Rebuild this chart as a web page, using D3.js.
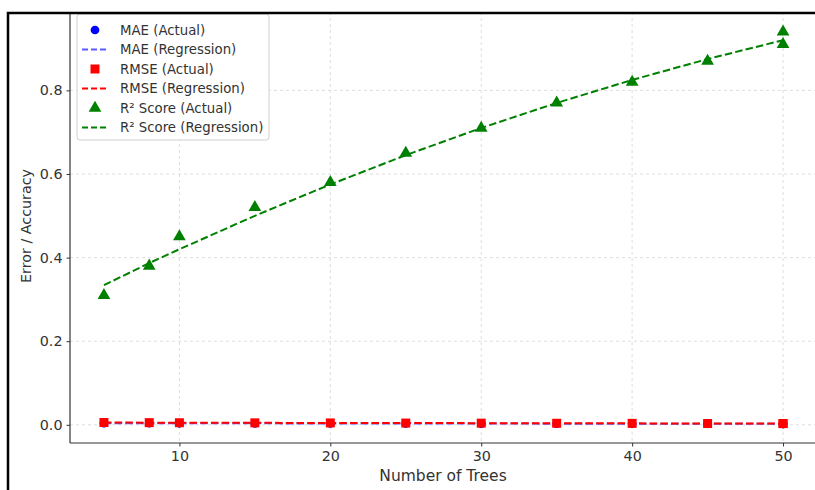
<!DOCTYPE html>
<html><head><meta charset="utf-8">
<script src="https://cdn.jsdelivr.net/npm/d3@7"></script>
<style>html,body{margin:0;padding:0;background:#fff;}svg{display:block;font-family:"DejaVu Sans",sans-serif;}</style>
</head><body><svg id="c" width="815" height="490"></svg>
<script>
const trees = [5, 8, 10, 15, 20, 25, 30, 35, 40, 45, 50, 50];
const maeActual = [0.004, 0.0038, 0.0037, 0.0035, 0.0033, 0.0031, 0.003, 0.0028, 0.0027, 0.0025, 0.0024, 0.0024];
const rmseActual = [0.0055, 0.0052, 0.005, 0.0047, 0.0045, 0.0042, 0.004, 0.0037, 0.0035, 0.0032, 0.003, 0.003];
const r2Actual = [0.31, 0.38, 0.45, 0.52, 0.58, 0.65, 0.71, 0.77, 0.82, 0.87, 0.91, 0.94];
const regTrees = [5, 8, 10, 15, 20, 25, 30, 35, 40, 45, 50];
const maeReg = [0.0039, 0.0038, 0.0037, 0.0035, 0.0033, 0.0031, 0.003, 0.0028, 0.0027, 0.0025, 0.0024];
const rmseReg = [0.0055, 0.0052, 0.005, 0.0047, 0.0045, 0.0042, 0.004, 0.0037, 0.0035, 0.0032, 0.003];
const r2Reg = [0.334, 0.387, 0.42, 0.5, 0.575, 0.645, 0.71, 0.77, 0.825, 0.875, 0.92];
const xTicks = [10, 20, 30, 40, 50];
const yTicks = [0, 0.2, 0.4, 0.6, 0.8];
const legendLabels = ["MAE (Actual)", "MAE (Regression)", "RMSE (Actual)", "RMSE (Regression)", "R² Score (Actual)", "R² Score (Regression)"];

const svg = d3.select("#c");
const L = 70, R = 817, T = 12, B = 443;
const x = d3.scaleLinear().domain([2.75, 52.25]).range([L, R]);
const y = d3.scaleLinear().domain([-0.0435, 0.9875]).range([B, T]);

// grid
const g = svg.append("g");
g.selectAll(".gx").data(xTicks).join("line")
  .attr("x1", d => x(d)).attr("x2", d => x(d)).attr("y1", T).attr("y2", B)
  .attr("stroke", "#d6d6d6").attr("stroke-width", 0.8).attr("stroke-dasharray", "3,3");
g.selectAll(".gy").data(yTicks).join("line")
  .attr("y1", d => y(d)).attr("y2", d => y(d)).attr("x1", L).attr("x2", R)
  .attr("stroke", "#d6d6d6").attr("stroke-width", 0.8).attr("stroke-dasharray", "3,3");

// axes
const xAxis = d3.axisBottom(x).tickValues(xTicks).tickFormat(d3.format("d")).tickSize(3.5).tickPadding(4);
const yAxis = d3.axisLeft(y).tickValues(yTicks).tickFormat(d3.format(".1f")).tickSize(3.5).tickPadding(4);
const ax = svg.append("g").attr("transform", `translate(0,${B})`).call(xAxis);
const ay = svg.append("g").attr("transform", `translate(${L},0)`).call(yAxis);
[ax, ay].forEach(a => {
  a.select(".domain").remove();
  a.selectAll("line").attr("stroke", "#333");
  a.selectAll("text").attr("fill", "#333").style("font-size", "14.3px").style("font-family", "DejaVu Sans");
});
svg.append("line").attr("x1", L).attr("x2", R).attr("y1", B).attr("y2", B).attr("stroke", "#333").attr("stroke-width", 1.2);
svg.append("line").attr("x1", L).attr("x2", L).attr("y1", T).attr("y2", B).attr("stroke", "#333").attr("stroke-width", 1.2);

svg.append("text").attr("x", 443).attr("y", 481).attr("text-anchor", "middle")
  .attr("fill", "#333").style("font-size", "15.5px").text("Number of Trees");
svg.append("text").attr("transform", "translate(31,226) rotate(-90)").attr("text-anchor", "middle")
  .attr("fill", "#333").style("font-size", "14.3px").text("Error / Accuracy");

const line = d3.line().x(d => x(d[0])).y(d => y(d[1]));
const dash = "7.5,3.2";
const plot = svg.append("g");
function regLine(vals, color, op) {
  plot.append("path").datum(regTrees.map((t, i) => [t, vals[i]])).attr("d", line)
    .attr("fill", "none").attr("stroke", color).attr("stroke-width", 2)
    .attr("stroke-dasharray", dash).attr("opacity", op);
}
const sq = d3.symbol().type(d3.symbolSquare).size(81);
const tri = d3.symbol().type(d3.symbolTriangle).size(70);
const circ = d3.symbol().type(d3.symbolCircle).size(60);
function markers(vals, sym, color) {
  plot.append("g").selectAll("path").data(trees.map((t, i) => [t, vals[i]])).join("path")
    .attr("d", sym).attr("transform", d => `translate(${x(d[0])},${y(d[1])})`).attr("fill", color);
}
markers(maeActual, circ, "#0000ff");
regLine(maeReg, "#3333ff", 0.8);
markers(rmseActual, sq, "#ff0000");
regLine(rmseReg, "#ff0000", 1);
markers(r2Actual, tri, "#008000");
regLine(r2Reg, "#008000", 1);

// legend
const lg = svg.append("g");
lg.append("rect").attr("x", 77).attr("y", 14).attr("width", 192).attr("height", 126).attr("rx", 3)
  .attr("fill", "#fff").attr("fill-opacity", 0.85).attr("stroke", "#d0d0d0");
const colors = ["#0000ff", "#3333ff", "#ff0000", "#ff0000", "#008000", "#008000"];
const syms = [circ, null, sq, null, tri, null];
legendLabels.forEach((lab, i) => {
  const yy = 30 + i * 19.5;
  if (syms[i]) {
    lg.append("path").attr("d", syms[i]).attr("transform", `translate(95,${yy})`).attr("fill", colors[i]);
  } else {
    lg.append("line").attr("x1", 82).attr("x2", 108).attr("y1", yy).attr("y2", yy)
      .attr("stroke", colors[i]).attr("stroke-width", 2).attr("stroke-dasharray", "6,3")
      .attr("opacity", i === 1 ? 0.8 : 1);
  }
  lg.append("text").attr("x", 120).attr("y", yy + 4.8).attr("fill", "#333").style("font-size", "13.3px").text(lab);
});

// outer frame
svg.append("path").attr("d", "M8,490 L8,13 L815,13").attr("fill", "none").attr("stroke", "#000").attr("stroke-width", 2.5);
</script></body></html>
